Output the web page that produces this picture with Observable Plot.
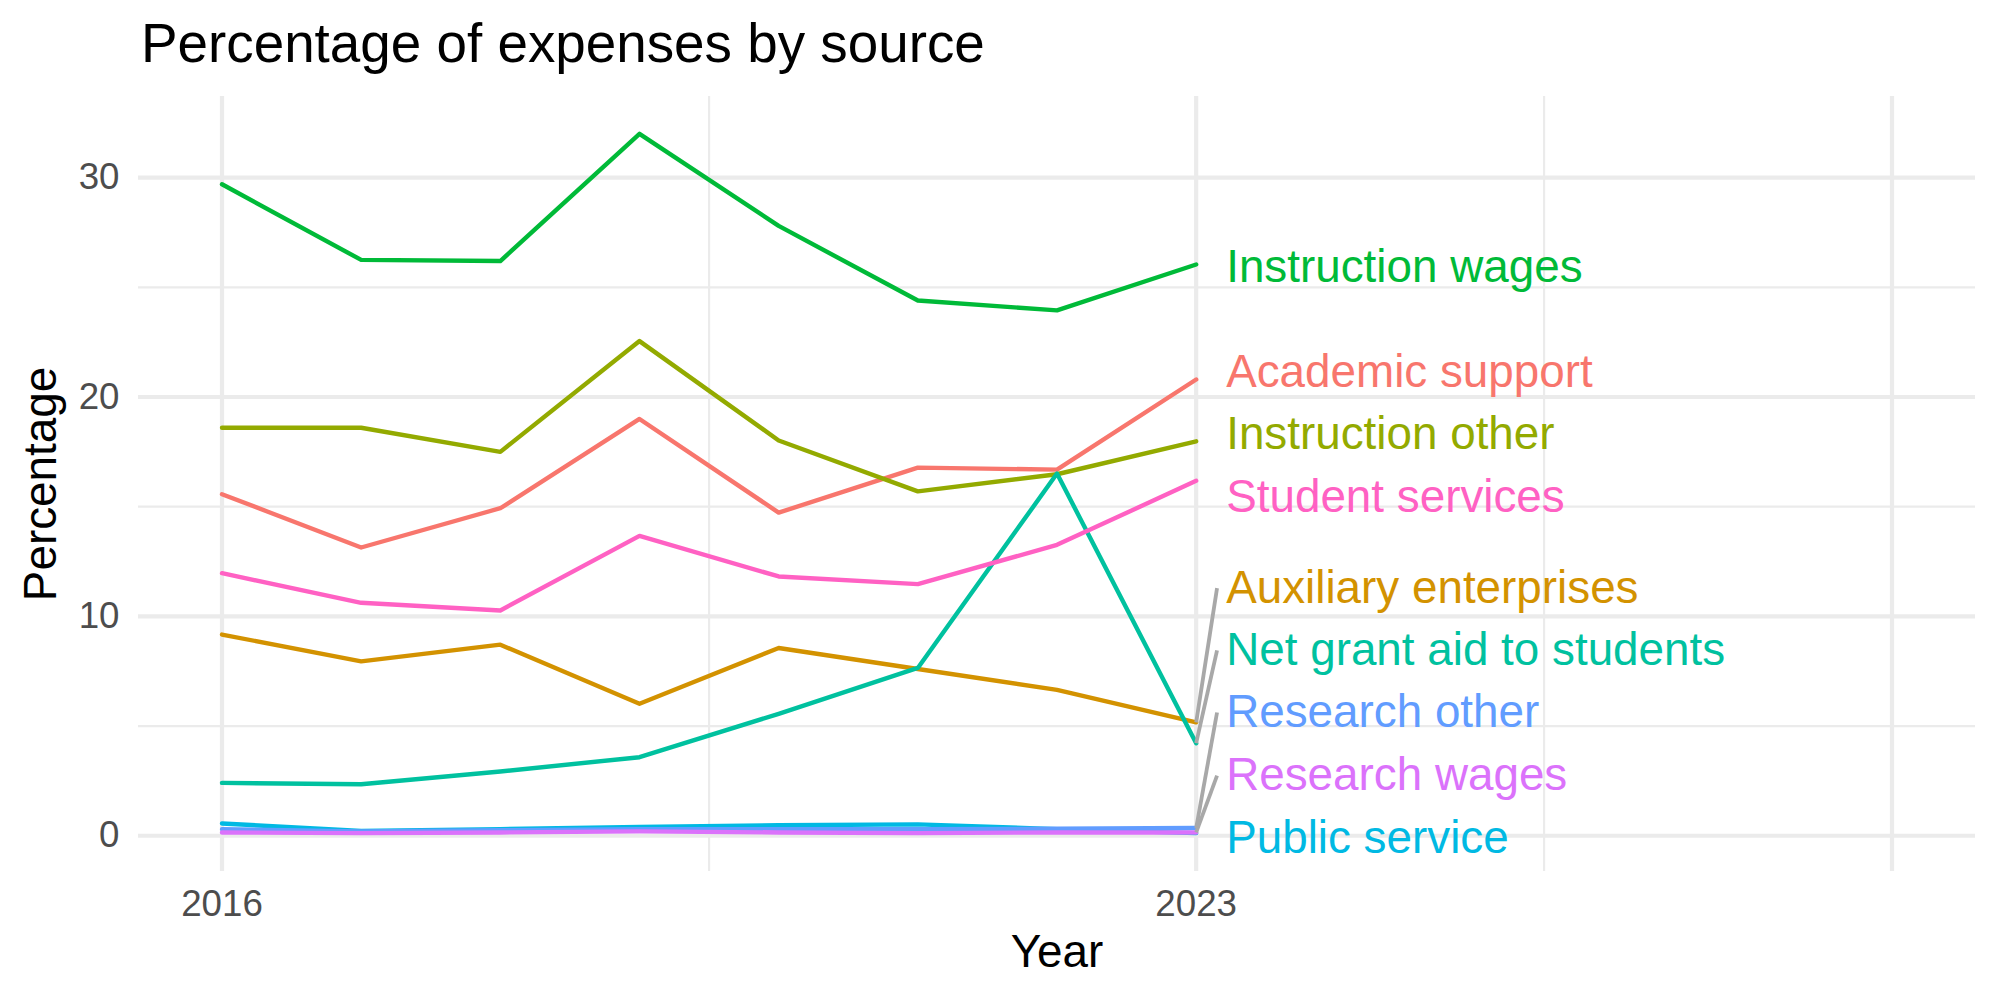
<!DOCTYPE html>
<html>
<head>
<meta charset="utf-8">
<script src="https://cdn.jsdelivr.net/npm/d3@7"></script>
<script src="https://cdn.jsdelivr.net/npm/@observablehq/plot@0.6"></script>
<style>
  html, body { margin: 0; padding: 0; background: #fff; }
  #wrap { position: relative; width: 2000px; height: 1000px; font-family: "Liberation Sans", Arial, sans-serif; }
  #title { position: absolute; left: 141px; top: 16px; font-size: 54.8px; line-height: 1; color: #000; white-space: nowrap; }
  #chart { position: absolute; left: 0; top: 80px; }
</style>
</head>
<body>
<div id="wrap">
  <div id="title">Percentage of expenses by source</div>
  <div id="chart"></div>
</div>
<script>
const years = [2016, 2017, 2018, 2019, 2020, 2021, 2022, 2023];
const sources = [
  "Academic support", "Auxiliary enterprises", "Instruction other", "Instruction wages",
  "Net grant aid to students", "Public service", "Research other", "Research wages", "Student services"
];
const colors = ["#F8766D", "#D39200", "#93AA00", "#00BA38", "#00C19F", "#00B9E3", "#619CFF", "#DB72FB", "#FF61C3"];

const academicSupport   = [15.57, 13.14, 14.93, 19.0, 14.73, 16.78, 16.69, 20.8];
const auxiliary         = [9.17, 7.95, 8.71, 6.02, 8.56, 7.6, 6.65, 5.17];
const instructionOther  = [18.6, 18.6, 17.5, 22.55, 18.02, 15.7, 16.48, 17.98];
const instructionWages  = [29.7, 26.25, 26.2, 32.0, 27.8, 24.4, 23.95, 26.04];
const netGrantAid       = [2.41, 2.35, 2.93, 3.58, 5.56, 7.65, 16.51, 4.22];
const publicService     = [0.56, 0.22, 0.3, 0.4, 0.48, 0.52, 0.3, 0.12];
const researchOther     = [0.3, 0.2, 0.25, 0.3, 0.3, 0.3, 0.32, 0.35];
const researchWages     = [0.15, 0.12, 0.15, 0.2, 0.15, 0.12, 0.15, 0.15];
const studentServices   = [11.97, 10.62, 10.27, 13.67, 11.82, 11.47, 13.26, 16.18];

// repelled label positions (y, in percentage units), in the order of `sources`
const labelY = [21.13, 11.29, 18.29, 25.92, 8.45, -0.10, 5.62, 2.74, 15.43];

const xTicks = [2016, 2023];
const xMajorGrid = [2016, 2023, 2028];
const xMinorGrid = [2019.5, 2025.5];
const yTicks = [0, 10, 20, 30];
const yMinorGrid = [5, 15, 25];

const seriesValues = [academicSupport, auxiliary, instructionOther, instructionWages,
  netGrantAid, publicService, researchOther, researchWages, studentServices];

const rows = [];
sources.forEach((s, i) => years.forEach((yr, j) => rows.push({source: s, year: yr, value: seriesValues[i][j]})));

const lastYear = years[years.length - 1];
const labels = sources.map((s, i) => ({
  source: s, year: lastYear, end: seriesValues[i][years.length - 1], ly: labelY[i]
}));
const segs = labels.filter(d => Math.abs(d.ly - d.end) > 1.5);

const segOffset = 0.15;

const chart = Plot.plot({
  width: 2000,
  height: 920,
  marginTop: 16,
  marginBottom: 129,
  marginLeft: 138,
  marginRight: 25,
  style: {fontFamily: "'Liberation Sans', Arial, sans-serif", background: "#fff"},
  x: {domain: [2015.4, 2028.6]},
  y: {domain: [-1.63, 33.7]},
  color: {domain: sources, range: colors},
  marks: [
    Plot.gridY({ticks: yMinorGrid, stroke: "#EBEBEB", strokeOpacity: 1, strokeWidth: 2.2}),
    Plot.gridX({ticks: xMinorGrid, stroke: "#EBEBEB", strokeOpacity: 1, strokeWidth: 2.2}),
    Plot.gridY({ticks: yTicks, stroke: "#EBEBEB", strokeOpacity: 1, strokeWidth: 4.2}),
    Plot.gridX({ticks: xMajorGrid, stroke: "#EBEBEB", strokeOpacity: 1, strokeWidth: 4.2}),
    Plot.axisY({ticks: yTicks, tickSize: 0, tickPadding: 19, fontSize: 36.7, color: "#4D4D4D", label: null}),
    Plot.axisX({ticks: xTicks, tickSize: 0, tickPadding: 18, fontSize: 36.7, color: "#4D4D4D", label: null, tickFormat: d => String(d)}),
    Plot.lineY(rows, {x: "year", y: "value", z: "source", stroke: "source", strokeWidth: 4.4}),
    Plot.link(segs, {x1: d => d.year + segOffset, y1: "ly", x2: "year", y2: "end", stroke: "#A8A8A8", strokeWidth: 3.8}),
    Plot.text(labels, {x: "year", y: "ly", text: "source", fill: "source", dx: 30, textAnchor: "start", lineAnchor: "middle", fontSize: 45.8}),
    Plot.text(["Year"], {text: d => d, frameAnchor: "bottom", textAnchor: "middle", lineAnchor: "bottom", dy: 95, fontSize: 45.8, fill: "#000"}),
    Plot.text(["Percentage"], {text: d => d, frameAnchor: "left", textAnchor: "middle", rotate: -90, lineAnchor: "bottom", dx: -83, fontSize: 45.8, fill: "#000"})
  ]
});
document.getElementById("chart").appendChild(chart);
</script>
</body>
</html>
